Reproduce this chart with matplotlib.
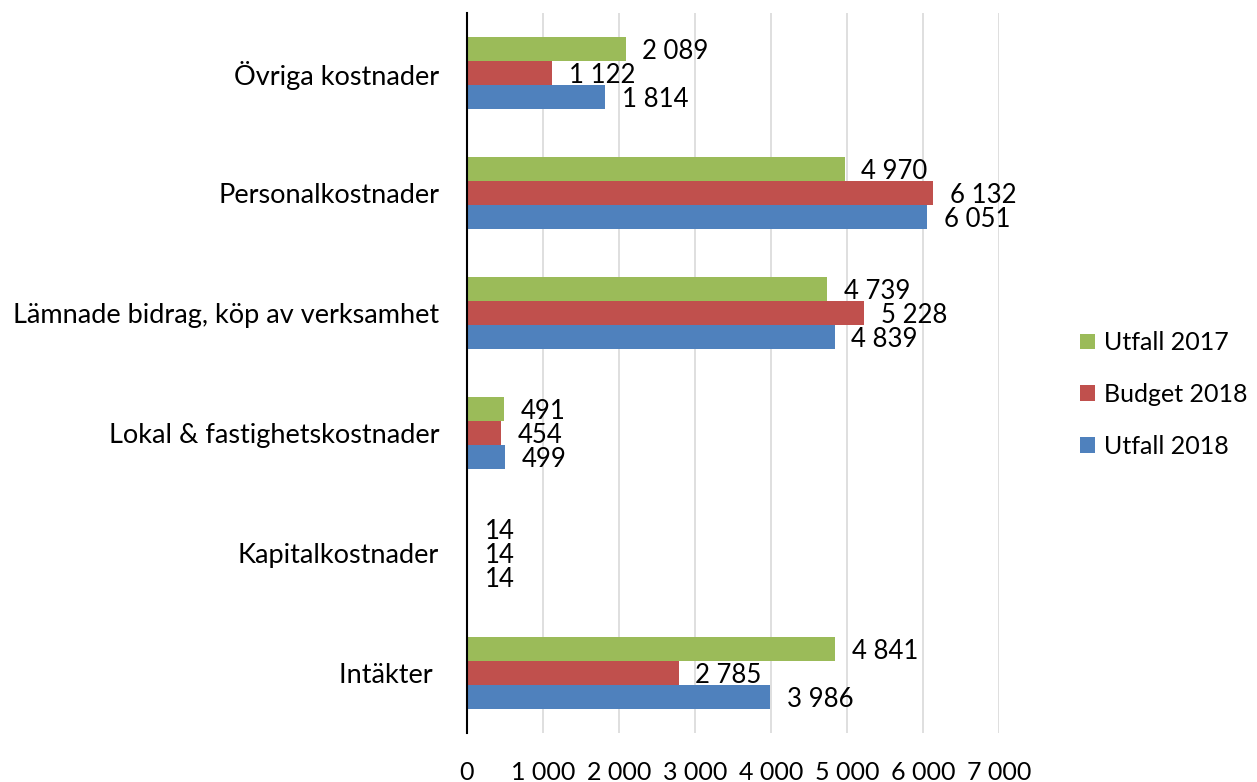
import matplotlib.pyplot as plt
import numpy as np

plt.rcParams['font.family'] = ['Lato', 'DejaVu Sans']

categories = ['Intäkter ', 'Kapitalkostnader', 'Lokal & fastighetskostnader',
              'Lämnade bidrag, köp av verksamhet', 'Personalkostnader', 'Övriga kostnader']
utfall_2017 = [4841, 14, 491, 4739, 4970, 2089]
budget_2018 = [2785, 14, 454, 5228, 6132, 1122]
utfall_2018 = [3986, 14, 499, 4839, 6051, 1814]

series = [('Utfall 2017', utfall_2017, '#9BBB59'),
          ('Budget 2018', budget_2018, '#C0504D'),
          ('Utfall 2018', utfall_2018, '#4F81BD')]

def fmt(v):
    return '{:,}'.format(int(v)).replace(',', ' ')

fig = plt.figure(figsize=(12.57, 7.82), dpi=100)
ax = fig.add_axes([0.3715, 0.0627, 0.4233, 0.9207])

y = np.arange(len(categories))
h = 0.2
offsets = [h, 0, -h]
handles = []
for (name, vals, col), off in zip(series, offsets):
    b = ax.barh(y + off, vals, height=h, color=col, label=name, zorder=3)
    handles.append(b)
    for yi, v in zip(y, vals):
        ax.annotate(fmt(v), (v, yi + off), xytext=(12, -2), textcoords='offset points',
                    ha='left', va='center', fontsize=18.5, color='black', zorder=4)

ax.set_xlim(0, 7000)
ax.set_ylim(-0.5, len(categories) - 0.5)
ax.set_yticks(y)
ax.set_yticklabels(categories, fontsize=19.5)
ax.set_xticks(np.arange(0, 7001, 1000))
ax.set_xticklabels([fmt(v) for v in np.arange(0, 7001, 1000)], fontsize=18)
ax.tick_params(axis='y', length=0, pad=20)
ax.tick_params(axis='x', length=0, pad=20)
ax.grid(axis='x', color='#D9D9D9', linewidth=1.2, zorder=0)
for s in ['top', 'right', 'bottom']:
    ax.spines[s].set_visible(False)
ax.spines['left'].set_linewidth(1.5)
ax.spines['left'].set_zorder(5)

ax.legend(handles=handles, loc='center left', bbox_to_anchor=(1.11, 0.47), frameon=False,
          fontsize=18, handlelength=0.6, handleheight=0.6, handletextpad=0.35,
          labelspacing=1.15)

fig.savefig('out.png', dpi=100)
